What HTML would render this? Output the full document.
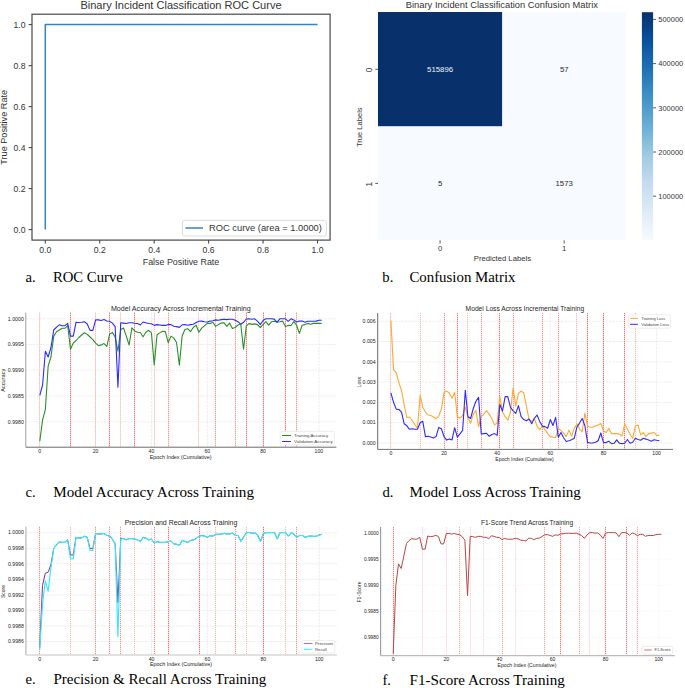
<!DOCTYPE html>
<html><head><meta charset="utf-8"><title>Figure</title>
<style>
html,body{margin:0;padding:0;background:#fff;}
body{width:685px;height:688px;overflow:hidden;position:relative;font-family:"Liberation Sans",sans-serif;}
svg{position:absolute;left:0;top:0;display:block;}
</style></head><body>
<svg width="685" height="688" viewBox="0 0 685 688">
<polyline points="45.30,229.60 45.30,24.60 317.50,24.60" fill="none" stroke="#3484c2" stroke-width="1.5" stroke-linejoin="round"/>
<rect x="32.0" y="14.2" width="298.1" height="225.9" fill="none" stroke="#484848" stroke-width="1.2"/>
<line x1="28.60" y1="229.60" x2="32.00" y2="229.60" stroke="#484848" stroke-width="1.1"/>
<text x="25.5" y="232.5" font-family="Liberation Sans" font-size="8.3" text-anchor="end" fill="#333" textLength="12.0" lengthAdjust="spacingAndGlyphs">0.0</text>
<line x1="45.30" y1="240.10" x2="45.30" y2="243.50" stroke="#484848" stroke-width="1.1"/>
<text x="45.3" y="252.8" font-family="Liberation Sans" font-size="8.3" text-anchor="middle" fill="#333" textLength="12.0" lengthAdjust="spacingAndGlyphs">0.0</text>
<line x1="28.60" y1="188.60" x2="32.00" y2="188.60" stroke="#484848" stroke-width="1.1"/>
<text x="25.5" y="191.5" font-family="Liberation Sans" font-size="8.3" text-anchor="end" fill="#333" textLength="12.0" lengthAdjust="spacingAndGlyphs">0.2</text>
<line x1="99.74" y1="240.10" x2="99.74" y2="243.50" stroke="#484848" stroke-width="1.1"/>
<text x="99.7" y="252.8" font-family="Liberation Sans" font-size="8.3" text-anchor="middle" fill="#333" textLength="12.0" lengthAdjust="spacingAndGlyphs">0.2</text>
<line x1="28.60" y1="147.60" x2="32.00" y2="147.60" stroke="#484848" stroke-width="1.1"/>
<text x="25.5" y="150.5" font-family="Liberation Sans" font-size="8.3" text-anchor="end" fill="#333" textLength="12.0" lengthAdjust="spacingAndGlyphs">0.4</text>
<line x1="154.18" y1="240.10" x2="154.18" y2="243.50" stroke="#484848" stroke-width="1.1"/>
<text x="154.2" y="252.8" font-family="Liberation Sans" font-size="8.3" text-anchor="middle" fill="#333" textLength="12.0" lengthAdjust="spacingAndGlyphs">0.4</text>
<line x1="28.60" y1="106.60" x2="32.00" y2="106.60" stroke="#484848" stroke-width="1.1"/>
<text x="25.5" y="109.5" font-family="Liberation Sans" font-size="8.3" text-anchor="end" fill="#333" textLength="12.0" lengthAdjust="spacingAndGlyphs">0.6</text>
<line x1="208.62" y1="240.10" x2="208.62" y2="243.50" stroke="#484848" stroke-width="1.1"/>
<text x="208.6" y="252.8" font-family="Liberation Sans" font-size="8.3" text-anchor="middle" fill="#333" textLength="12.0" lengthAdjust="spacingAndGlyphs">0.6</text>
<line x1="28.60" y1="65.60" x2="32.00" y2="65.60" stroke="#484848" stroke-width="1.1"/>
<text x="25.5" y="68.5" font-family="Liberation Sans" font-size="8.3" text-anchor="end" fill="#333" textLength="12.0" lengthAdjust="spacingAndGlyphs">0.8</text>
<line x1="263.06" y1="240.10" x2="263.06" y2="243.50" stroke="#484848" stroke-width="1.1"/>
<text x="263.1" y="252.8" font-family="Liberation Sans" font-size="8.3" text-anchor="middle" fill="#333" textLength="12.0" lengthAdjust="spacingAndGlyphs">0.8</text>
<line x1="28.60" y1="24.60" x2="32.00" y2="24.60" stroke="#484848" stroke-width="1.1"/>
<text x="25.5" y="27.5" font-family="Liberation Sans" font-size="8.3" text-anchor="end" fill="#333" textLength="12.0" lengthAdjust="spacingAndGlyphs">1.0</text>
<line x1="317.50" y1="240.10" x2="317.50" y2="243.50" stroke="#484848" stroke-width="1.1"/>
<text x="317.5" y="252.8" font-family="Liberation Sans" font-size="8.3" text-anchor="middle" fill="#333" textLength="12.0" lengthAdjust="spacingAndGlyphs">1.0</text>
<text x="181.0" y="264.6" font-family="Liberation Sans" font-size="9.1" text-anchor="middle" fill="#333" textLength="76.5" lengthAdjust="spacingAndGlyphs">False Positive Rate</text>
<text x="7.4" y="127.3" font-family="Liberation Sans" font-size="9.1" text-anchor="middle" fill="#333" textLength="74.8" lengthAdjust="spacingAndGlyphs" transform="rotate(-90 7.4 127.3)">True Positive Rate</text>
<text x="181.0" y="8.9" font-family="Liberation Sans" font-size="11" text-anchor="middle" fill="#333" textLength="201.2" lengthAdjust="spacingAndGlyphs">Binary Incident Classification ROC Curve</text>
<rect x="182.4" y="220.4" width="144" height="15.6" rx="2" fill="#fff" fill-opacity="0.8" stroke="#d8d8d8" stroke-width="0.9"/>
<line x1="185.40" y1="228.00" x2="203.00" y2="228.00" stroke="#3484c2" stroke-width="1.5"/>
<text x="209.0" y="231.1" font-family="Liberation Sans" font-size="8.8" text-anchor="start" fill="#333" textLength="112.9" lengthAdjust="spacingAndGlyphs">ROC curve (area = 1.0000)</text>
<rect x="378.0" y="12.0" width="248.2" height="228.3" fill="#f7fbff"/>
<rect x="378.0" y="12.0" width="124.1" height="114.2" fill="#08306b"/>
<text x="440.1" y="71.9" font-family="Liberation Sans" font-size="7.7" text-anchor="middle" fill="#eef3fa" textLength="26.0" lengthAdjust="spacingAndGlyphs">515896</text>
<text x="564.2" y="71.9" font-family="Liberation Sans" font-size="7.7" text-anchor="middle" fill="#262626" textLength="8.6" lengthAdjust="spacingAndGlyphs">57</text>
<text x="440.1" y="186.0" font-family="Liberation Sans" font-size="7.7" text-anchor="middle" fill="#262626" textLength="4.3" lengthAdjust="spacingAndGlyphs">5</text>
<text x="564.2" y="186.0" font-family="Liberation Sans" font-size="7.7" text-anchor="middle" fill="#262626" textLength="17.3" lengthAdjust="spacingAndGlyphs">1573</text>
<line x1="375.30" y1="69.28" x2="378.00" y2="69.28" stroke="#484848" stroke-width="0.9"/>
<text x="372.4" y="70.0" font-family="Liberation Sans" font-size="8.2" text-anchor="middle" fill="#333" transform="rotate(-90 372.4 70.0)">0</text>
<line x1="440.05" y1="240.30" x2="440.05" y2="243.50" stroke="#484848" stroke-width="0.9"/>
<text x="440.1" y="250.8" font-family="Liberation Sans" font-size="7.7" text-anchor="middle" fill="#333">0</text>
<line x1="375.30" y1="183.43" x2="378.00" y2="183.43" stroke="#484848" stroke-width="0.9"/>
<text x="372.4" y="184.1" font-family="Liberation Sans" font-size="8.2" text-anchor="middle" fill="#333" transform="rotate(-90 372.4 184.1)">1</text>
<line x1="564.15" y1="240.30" x2="564.15" y2="243.50" stroke="#484848" stroke-width="0.9"/>
<text x="564.2" y="250.8" font-family="Liberation Sans" font-size="7.7" text-anchor="middle" fill="#333">1</text>
<text x="502.4" y="261.0" font-family="Liberation Sans" font-size="7.3" text-anchor="middle" fill="#333" textLength="57.2" lengthAdjust="spacingAndGlyphs">Predicted Labels</text>
<text x="362.2" y="127.2" font-family="Liberation Sans" font-size="7.3" text-anchor="middle" fill="#333" textLength="39.6" lengthAdjust="spacingAndGlyphs" transform="rotate(-90 362.2 127.2)">True Labels</text>
<text x="501.9" y="8.0" font-family="Liberation Sans" font-size="9.0" text-anchor="middle" fill="#333" textLength="192.2" lengthAdjust="spacingAndGlyphs">Binary Incident Classification Confusion Matrix</text>
<defs><linearGradient id="blues" x1="0" y1="1" x2="0" y2="0"><stop offset="0" stop-color="#f7fbff"/><stop offset="0.125" stop-color="#deebf7"/><stop offset="0.25" stop-color="#c6dbef"/><stop offset="0.375" stop-color="#9ecae1"/><stop offset="0.5" stop-color="#6baed6"/><stop offset="0.625" stop-color="#4292c6"/><stop offset="0.75" stop-color="#2171b5"/><stop offset="0.875" stop-color="#08519c"/><stop offset="1" stop-color="#08306b"/></linearGradient></defs>
<rect x="641.9" y="12.2" width="11.2" height="228.1" fill="url(#blues)"/>
<line x1="653.10" y1="196.20" x2="656.10" y2="196.20" stroke="#484848" stroke-width="0.9"/>
<text x="658.3" y="199.0" font-family="Liberation Sans" font-size="7.7" text-anchor="start" fill="#333" textLength="24.9" lengthAdjust="spacingAndGlyphs">100000</text>
<line x1="653.10" y1="152.00" x2="656.10" y2="152.00" stroke="#484848" stroke-width="0.9"/>
<text x="658.3" y="154.8" font-family="Liberation Sans" font-size="7.7" text-anchor="start" fill="#333" textLength="24.9" lengthAdjust="spacingAndGlyphs">200000</text>
<line x1="653.10" y1="107.80" x2="656.10" y2="107.80" stroke="#484848" stroke-width="0.9"/>
<text x="658.3" y="110.6" font-family="Liberation Sans" font-size="7.7" text-anchor="start" fill="#333" textLength="24.9" lengthAdjust="spacingAndGlyphs">300000</text>
<line x1="653.10" y1="63.60" x2="656.10" y2="63.60" stroke="#484848" stroke-width="0.9"/>
<text x="658.3" y="66.4" font-family="Liberation Sans" font-size="7.7" text-anchor="start" fill="#333" textLength="24.9" lengthAdjust="spacingAndGlyphs">400000</text>
<line x1="653.10" y1="19.40" x2="656.10" y2="19.40" stroke="#484848" stroke-width="0.9"/>
<text x="658.3" y="22.2" font-family="Liberation Sans" font-size="7.7" text-anchor="start" fill="#333" textLength="24.9" lengthAdjust="spacingAndGlyphs">500000</text>
<line x1="25.80" y1="318.80" x2="336.40" y2="318.80" stroke="#e9e9e9" stroke-width="0.8" stroke-dasharray="2.4,1"/>
<line x1="25.80" y1="344.50" x2="336.40" y2="344.50" stroke="#e9e9e9" stroke-width="0.8" stroke-dasharray="2.4,1"/>
<line x1="25.80" y1="370.20" x2="336.40" y2="370.20" stroke="#e9e9e9" stroke-width="0.8" stroke-dasharray="2.4,1"/>
<line x1="25.80" y1="396.00" x2="336.40" y2="396.00" stroke="#e9e9e9" stroke-width="0.8" stroke-dasharray="2.4,1"/>
<line x1="25.80" y1="421.80" x2="336.40" y2="421.80" stroke="#e9e9e9" stroke-width="0.8" stroke-dasharray="2.4,1"/>
<line x1="39.80" y1="312.60" x2="39.80" y2="447.20" stroke="#e9e9e9" stroke-width="0.8" stroke-dasharray="2.4,1"/>
<line x1="95.62" y1="312.60" x2="95.62" y2="447.20" stroke="#e9e9e9" stroke-width="0.8" stroke-dasharray="2.4,1"/>
<line x1="151.44" y1="312.60" x2="151.44" y2="447.20" stroke="#e9e9e9" stroke-width="0.8" stroke-dasharray="2.4,1"/>
<line x1="207.26" y1="312.60" x2="207.26" y2="447.20" stroke="#e9e9e9" stroke-width="0.8" stroke-dasharray="2.4,1"/>
<line x1="263.08" y1="312.60" x2="263.08" y2="447.20" stroke="#e9e9e9" stroke-width="0.8" stroke-dasharray="2.4,1"/>
<line x1="318.90" y1="312.60" x2="318.90" y2="447.20" stroke="#e9e9e9" stroke-width="0.8" stroke-dasharray="2.4,1"/>
<line x1="39.50" y1="312.60" x2="39.50" y2="447.20" stroke="#ffb8b8" stroke-width="1.0" stroke-dasharray="1.3,0.7"/>
<line x1="70.50" y1="312.60" x2="70.50" y2="447.20" stroke="#ff6868" stroke-width="1.0" stroke-dasharray="1.3,0.7"/>
<line x1="95.50" y1="312.60" x2="95.50" y2="447.20" stroke="#ffb8b8" stroke-width="1.0" stroke-dasharray="1.3,0.7"/>
<line x1="109.50" y1="312.60" x2="109.50" y2="447.20" stroke="#ff6868" stroke-width="1.0" stroke-dasharray="1.3,0.7"/>
<line x1="120.50" y1="312.60" x2="120.50" y2="447.20" stroke="#ffb8b8" stroke-width="1.0" stroke-dasharray="1.3,0.7"/>
<line x1="134.50" y1="312.60" x2="134.50" y2="447.20" stroke="#ff6868" stroke-width="1.0" stroke-dasharray="1.3,0.7"/>
<line x1="154.50" y1="312.60" x2="154.50" y2="447.20" stroke="#ffb8b8" stroke-width="1.0" stroke-dasharray="1.3,0.7"/>
<line x1="168.50" y1="312.60" x2="168.50" y2="447.20" stroke="#ff9090" stroke-width="1.0" stroke-dasharray="1.3,0.7"/>
<line x1="198.50" y1="312.60" x2="198.50" y2="447.20" stroke="#ffb8b8" stroke-width="1.0" stroke-dasharray="1.3,0.7"/>
<line x1="215.50" y1="312.60" x2="215.50" y2="447.20" stroke="#ff9090" stroke-width="1.0" stroke-dasharray="1.3,0.7"/>
<line x1="235.50" y1="312.60" x2="235.50" y2="447.20" stroke="#ff9090" stroke-width="1.0" stroke-dasharray="1.3,0.7"/>
<line x1="246.50" y1="312.60" x2="246.50" y2="447.20" stroke="#ff6868" stroke-width="1.0" stroke-dasharray="1.3,0.7"/>
<line x1="263.50" y1="312.60" x2="263.50" y2="447.20" stroke="#ff6868" stroke-width="1.0" stroke-dasharray="1.3,0.7"/>
<line x1="285.50" y1="312.60" x2="285.50" y2="447.20" stroke="#ff6868" stroke-width="1.0" stroke-dasharray="1.3,0.7"/>
<line x1="296.50" y1="312.60" x2="296.50" y2="447.20" stroke="#ff9090" stroke-width="1.0" stroke-dasharray="1.3,0.7"/>
<polyline points="39.80,441.30 42.59,419.80 45.38,409.30 48.17,365.80 50.96,357.00 53.75,336.10 56.55,331.80 59.34,330.00 62.13,328.30 64.92,328.30 67.71,325.70 70.50,349.20 73.29,343.10 76.08,340.50 78.87,337.50 81.66,335.00 84.46,332.70 87.25,334.40 90.04,337.00 92.83,339.60 95.62,343.10 98.41,345.70 101.20,344.90 103.99,343.60 106.78,346.30 109.57,334.30 112.37,332.40 115.16,337.00 117.95,351.20 120.74,329.60 123.53,328.00 126.32,336.10 129.11,345.00 131.90,327.90 134.69,330.90 137.49,332.20 140.28,332.50 143.07,336.80 145.86,332.20 148.65,330.30 151.44,332.90 154.23,364.90 157.02,334.80 159.81,332.90 162.60,331.20 165.39,331.60 168.19,342.70 170.98,336.10 173.77,338.10 176.56,342.50 179.35,365.20 182.14,336.00 184.93,329.50 187.72,328.70 190.51,331.60 193.31,327.50 196.10,325.20 198.89,332.20 201.68,328.10 204.47,325.80 207.26,323.40 210.05,323.40 212.84,322.30 215.63,326.40 218.42,324.60 221.21,323.10 224.01,322.80 226.80,326.40 229.59,323.10 232.38,328.50 235.17,327.50 237.96,324.90 240.75,324.00 243.54,349.10 246.33,325.80 249.12,323.60 251.92,324.40 254.71,323.90 257.50,324.60 260.29,327.50 263.08,324.60 265.87,321.70 268.66,325.20 271.45,321.70 274.24,321.30 277.03,322.00 279.83,321.70 282.62,321.10 285.41,326.40 288.20,325.40 290.99,325.50 293.78,321.70 296.57,325.20 299.36,333.40 302.15,325.20 304.94,324.60 307.74,323.40 310.53,324.20 313.32,323.40 316.11,323.40 318.90,323.40 321.69,323.40" fill="none" stroke="#2a8f2a" stroke-width="1.1" stroke-linejoin="round"/>
<polyline points="39.80,395.40 42.59,385.00 45.38,351.30 48.17,357.00 50.96,347.50 53.75,330.00 56.55,327.10 59.34,324.80 62.13,325.70 64.92,325.70 67.71,323.40 70.50,336.10 73.29,336.10 76.08,322.20 78.87,322.50 81.66,322.20 84.46,321.70 87.25,324.00 90.04,330.40 92.83,330.40 95.62,319.90 98.41,319.90 101.20,320.50 103.99,319.60 106.78,321.00 109.57,321.20 112.37,323.10 115.16,326.70 117.95,387.10 120.74,322.80 123.53,323.10 126.32,323.50 129.11,322.70 131.90,322.70 134.69,323.30 137.49,323.50 140.28,325.00 143.07,322.00 145.86,322.80 148.65,323.50 151.44,323.70 154.23,325.40 157.02,324.60 159.81,325.00 162.60,325.40 165.39,325.40 168.19,324.40 170.98,324.60 173.77,326.30 176.56,326.60 179.35,327.40 182.14,324.80 184.93,324.60 187.72,325.20 190.51,324.60 193.31,324.20 196.10,322.60 198.89,321.30 201.68,321.10 204.47,321.70 207.26,322.00 210.05,321.10 212.84,320.70 215.63,319.90 218.42,320.30 221.21,319.60 224.01,319.30 226.80,319.60 229.59,319.30 232.38,319.30 235.17,320.20 237.96,321.70 240.75,324.20 243.54,322.30 246.33,319.00 249.12,318.80 251.92,319.20 254.71,318.80 257.50,321.10 260.29,324.60 263.08,320.50 265.87,318.80 268.66,318.80 271.45,318.80 274.24,319.10 277.03,322.30 279.83,318.80 282.62,318.80 285.41,318.80 288.20,321.30 290.99,318.80 293.78,319.90 296.57,322.00 299.36,321.10 302.15,321.10 304.94,322.30 307.74,321.30 310.53,321.30 313.32,321.30 316.11,321.10 318.90,320.30 321.69,320.30" fill="none" stroke="#2b2bff" stroke-width="1.1" stroke-linejoin="round"/>
<line x1="25.80" y1="312.60" x2="25.80" y2="447.20" stroke="#a0a0a0" stroke-width="1.0"/>
<line x1="25.80" y1="447.20" x2="336.40" y2="447.20" stroke="#6a6a6a" stroke-width="1.0"/>
<text x="23.8" y="320.5" font-family="Liberation Sans" font-size="4.9" text-anchor="end" fill="#222" textLength="16.0" lengthAdjust="spacingAndGlyphs">1.0000</text>
<text x="23.8" y="346.2" font-family="Liberation Sans" font-size="4.9" text-anchor="end" fill="#222" textLength="16.0" lengthAdjust="spacingAndGlyphs">0.9995</text>
<text x="23.8" y="371.9" font-family="Liberation Sans" font-size="4.9" text-anchor="end" fill="#222" textLength="16.0" lengthAdjust="spacingAndGlyphs">0.9990</text>
<text x="23.8" y="397.7" font-family="Liberation Sans" font-size="4.9" text-anchor="end" fill="#222" textLength="16.0" lengthAdjust="spacingAndGlyphs">0.9985</text>
<text x="23.8" y="423.5" font-family="Liberation Sans" font-size="4.9" text-anchor="end" fill="#222" textLength="16.0" lengthAdjust="spacingAndGlyphs">0.9980</text>
<text x="39.8" y="452.8" font-family="Liberation Sans" font-size="4.9" text-anchor="middle" fill="#222" textLength="2.9" lengthAdjust="spacingAndGlyphs">0</text>
<text x="95.6" y="452.8" font-family="Liberation Sans" font-size="4.9" text-anchor="middle" fill="#222" textLength="5.7" lengthAdjust="spacingAndGlyphs">20</text>
<text x="151.4" y="452.8" font-family="Liberation Sans" font-size="4.9" text-anchor="middle" fill="#222" textLength="5.7" lengthAdjust="spacingAndGlyphs">40</text>
<text x="207.3" y="452.8" font-family="Liberation Sans" font-size="4.9" text-anchor="middle" fill="#222" textLength="5.7" lengthAdjust="spacingAndGlyphs">60</text>
<text x="263.1" y="452.8" font-family="Liberation Sans" font-size="4.9" text-anchor="middle" fill="#222" textLength="5.7" lengthAdjust="spacingAndGlyphs">80</text>
<text x="318.9" y="452.8" font-family="Liberation Sans" font-size="4.9" text-anchor="middle" fill="#222" textLength="8.6" lengthAdjust="spacingAndGlyphs">100</text>
<text x="180.6" y="459.0" font-family="Liberation Sans" font-size="4.9" text-anchor="middle" fill="#222" textLength="61.8" lengthAdjust="spacingAndGlyphs">Epoch Index (Cumulative)</text>
<text x="5.0" y="380.2" font-family="Liberation Sans" font-size="4.9" text-anchor="middle" fill="#222" textLength="23.0" lengthAdjust="spacingAndGlyphs" transform="rotate(-90 5.0 380.2)">Accuracy</text>
<text x="180.8" y="310.7" font-family="Liberation Sans" font-size="6.9" text-anchor="middle" fill="#262626" textLength="139.7" lengthAdjust="spacingAndGlyphs">Model Accuracy Across Incremental Training</text>
<rect x="280.2" y="431.4" width="54.2" height="13.6" rx="1" fill="#fff" stroke="#e0e0e0" stroke-width="0.6"/>
<line x1="282.00" y1="435.50" x2="291.00" y2="435.50" stroke="#2a8f2a" stroke-width="1.0"/>
<text x="294.0" y="436.8" font-family="Liberation Sans" font-size="3.7" text-anchor="start" fill="#444" textLength="34.2" lengthAdjust="spacingAndGlyphs">Training Accuracy</text>
<line x1="282.00" y1="441.50" x2="291.00" y2="441.50" stroke="#2b2bff" stroke-width="1.0"/>
<text x="294.0" y="442.8" font-family="Liberation Sans" font-size="3.7" text-anchor="start" fill="#444" textLength="38.8" lengthAdjust="spacingAndGlyphs">Validation Accuracy</text>
<line x1="377.70" y1="321.20" x2="673.00" y2="321.20" stroke="#e9e9e9" stroke-width="0.8" stroke-dasharray="2.4,1"/>
<line x1="377.70" y1="341.50" x2="673.00" y2="341.50" stroke="#e9e9e9" stroke-width="0.8" stroke-dasharray="2.4,1"/>
<line x1="377.70" y1="361.80" x2="673.00" y2="361.80" stroke="#e9e9e9" stroke-width="0.8" stroke-dasharray="2.4,1"/>
<line x1="377.70" y1="382.10" x2="673.00" y2="382.10" stroke="#e9e9e9" stroke-width="0.8" stroke-dasharray="2.4,1"/>
<line x1="377.70" y1="402.40" x2="673.00" y2="402.40" stroke="#e9e9e9" stroke-width="0.8" stroke-dasharray="2.4,1"/>
<line x1="377.70" y1="422.70" x2="673.00" y2="422.70" stroke="#e9e9e9" stroke-width="0.8" stroke-dasharray="2.4,1"/>
<line x1="377.70" y1="443.00" x2="673.00" y2="443.00" stroke="#e9e9e9" stroke-width="0.8" stroke-dasharray="2.4,1"/>
<line x1="390.90" y1="313.00" x2="390.90" y2="449.40" stroke="#e9e9e9" stroke-width="0.8" stroke-dasharray="2.4,1"/>
<line x1="444.04" y1="313.00" x2="444.04" y2="449.40" stroke="#e9e9e9" stroke-width="0.8" stroke-dasharray="2.4,1"/>
<line x1="497.18" y1="313.00" x2="497.18" y2="449.40" stroke="#e9e9e9" stroke-width="0.8" stroke-dasharray="2.4,1"/>
<line x1="550.32" y1="313.00" x2="550.32" y2="449.40" stroke="#e9e9e9" stroke-width="0.8" stroke-dasharray="2.4,1"/>
<line x1="603.46" y1="313.00" x2="603.46" y2="449.40" stroke="#e9e9e9" stroke-width="0.8" stroke-dasharray="2.4,1"/>
<line x1="656.60" y1="313.00" x2="656.60" y2="449.40" stroke="#e9e9e9" stroke-width="0.8" stroke-dasharray="2.4,1"/>
<line x1="390.50" y1="313.00" x2="390.50" y2="449.40" stroke="#ffb8b8" stroke-width="1.0" stroke-dasharray="1.3,0.7"/>
<line x1="420.50" y1="313.00" x2="420.50" y2="449.40" stroke="#ffb8b8" stroke-width="1.0" stroke-dasharray="1.3,0.7"/>
<line x1="444.50" y1="313.00" x2="444.50" y2="449.40" stroke="#ff9090" stroke-width="1.0" stroke-dasharray="1.3,0.7"/>
<line x1="457.50" y1="313.00" x2="457.50" y2="449.40" stroke="#ff6868" stroke-width="1.0" stroke-dasharray="1.3,0.7"/>
<line x1="467.50" y1="313.00" x2="467.50" y2="449.40" stroke="#ffb8b8" stroke-width="1.0" stroke-dasharray="1.3,0.7"/>
<line x1="481.50" y1="313.00" x2="481.50" y2="449.40" stroke="#ff9090" stroke-width="1.0" stroke-dasharray="1.3,0.7"/>
<line x1="499.50" y1="313.00" x2="499.50" y2="449.40" stroke="#ff6868" stroke-width="1.0" stroke-dasharray="1.3,0.7"/>
<line x1="513.50" y1="313.00" x2="513.50" y2="449.40" stroke="#ff9090" stroke-width="1.0" stroke-dasharray="1.3,0.7"/>
<line x1="542.50" y1="313.00" x2="542.50" y2="449.40" stroke="#ff9090" stroke-width="1.0" stroke-dasharray="1.3,0.7"/>
<line x1="558.50" y1="313.00" x2="558.50" y2="449.40" stroke="#ff9090" stroke-width="1.0" stroke-dasharray="1.3,0.7"/>
<line x1="576.50" y1="313.00" x2="576.50" y2="449.40" stroke="#ffb8b8" stroke-width="1.0" stroke-dasharray="1.3,0.7"/>
<line x1="587.50" y1="313.00" x2="587.50" y2="449.40" stroke="#ff6868" stroke-width="1.0" stroke-dasharray="1.3,0.7"/>
<line x1="603.50" y1="313.00" x2="603.50" y2="449.40" stroke="#ff6868" stroke-width="1.0" stroke-dasharray="1.3,0.7"/>
<line x1="624.50" y1="313.00" x2="624.50" y2="449.40" stroke="#ff6868" stroke-width="1.0" stroke-dasharray="1.3,0.7"/>
<line x1="635.50" y1="313.00" x2="635.50" y2="449.40" stroke="#ffb8b8" stroke-width="1.0" stroke-dasharray="1.3,0.7"/>
<polyline points="390.90,320.50 393.56,369.90 396.21,372.50 398.87,382.60 401.53,390.50 404.19,405.00 406.84,417.50 409.50,417.00 412.16,420.50 414.81,424.50 417.47,428.30 420.13,395.40 422.78,407.20 425.44,412.10 428.10,415.00 430.75,415.40 433.41,417.00 436.07,418.90 438.73,416.00 441.38,409.10 444.04,392.50 446.70,391.10 449.35,393.00 452.01,398.30 454.67,392.50 457.32,416.50 459.98,418.30 462.64,415.50 465.30,407.00 467.95,417.90 470.61,423.10 473.27,414.40 475.92,410.30 478.58,426.60 481.24,416.70 483.89,413.80 486.55,410.60 489.21,414.40 491.87,418.50 494.52,424.90 497.18,423.10 499.84,396.30 502.49,412.00 505.15,416.70 507.81,420.20 510.46,412.00 513.12,388.10 515.78,406.20 518.44,393.40 521.09,391.30 523.75,392.80 526.41,406.20 529.06,419.60 531.72,421.50 534.38,418.50 537.03,426.10 539.69,429.60 542.35,426.10 545.01,429.60 547.66,433.60 550.32,436.60 552.98,437.20 555.63,437.50 558.29,428.40 560.95,430.70 563.61,433.10 566.26,436.60 568.92,430.10 571.58,436.30 574.23,428.40 576.89,424.00 579.55,429.00 582.20,431.90 584.86,413.00 587.52,426.10 590.17,427.20 592.83,427.20 595.49,425.80 598.15,424.90 600.80,423.50 603.46,431.00 606.12,432.50 608.77,428.40 611.43,433.60 614.09,433.60 616.75,433.60 619.40,434.00 622.06,436.00 624.72,423.70 627.37,429.00 630.03,434.20 632.69,438.30 635.34,426.10 638.00,424.90 640.66,434.80 643.31,432.50 645.97,436.60 648.63,433.60 651.29,433.10 653.94,432.50 656.60,435.40 659.26,435.40" fill="none" stroke="#ffa733" stroke-width="1.1" stroke-linejoin="round"/>
<polyline points="390.90,393.00 393.56,402.30 396.21,409.10 398.87,409.50 401.53,412.10 404.19,423.80 406.84,425.80 409.50,429.30 412.16,428.70 414.81,429.30 417.47,429.30 420.13,422.80 422.78,421.30 425.44,436.60 428.10,436.20 430.75,437.00 433.41,438.10 436.07,436.60 438.73,427.40 441.38,428.70 444.04,436.60 446.70,440.10 449.35,438.90 452.01,439.90 454.67,427.70 457.32,437.10 459.98,433.80 462.64,430.40 465.30,390.30 467.95,416.70 470.61,418.50 473.27,408.50 475.92,401.30 478.58,397.40 481.24,434.00 483.89,433.60 486.55,433.30 489.21,436.30 491.87,434.50 494.52,433.60 497.18,435.40 499.84,404.50 502.49,411.10 505.15,396.60 507.81,396.60 510.46,407.40 513.12,410.90 515.78,413.40 518.44,405.60 521.09,416.70 523.75,419.60 526.41,420.80 529.06,419.00 531.72,423.70 534.38,418.30 537.03,415.00 539.69,421.40 542.35,426.10 545.01,426.60 547.66,428.40 550.32,419.60 552.98,425.50 555.63,417.30 558.29,437.20 560.95,432.50 563.61,437.70 566.26,441.50 568.92,440.70 571.58,439.80 574.23,438.30 576.89,427.20 579.55,423.10 582.20,418.50 584.86,425.50 587.52,442.40 590.17,443.00 592.83,443.00 595.49,442.20 598.15,440.70 600.80,433.00 603.46,442.40 606.12,442.60 608.77,441.20 611.43,443.60 614.09,443.30 616.75,439.80 619.40,443.30 622.06,443.60 624.72,443.30 627.37,439.50 630.03,443.30 632.69,442.20 635.34,438.30 638.00,439.50 640.66,440.30 643.31,438.30 645.97,439.10 648.63,440.10 651.29,441.20 653.94,439.80 656.60,440.30 659.26,440.70" fill="none" stroke="#2b2bff" stroke-width="1.1" stroke-linejoin="round"/>
<line x1="377.70" y1="313.00" x2="377.70" y2="449.40" stroke="#686868" stroke-width="1.0"/>
<line x1="377.70" y1="449.40" x2="673.00" y2="449.40" stroke="#707070" stroke-width="1.0"/>
<text x="375.7" y="322.9" font-family="Liberation Sans" font-size="4.9" text-anchor="end" fill="#222" textLength="13.1" lengthAdjust="spacingAndGlyphs">0.006</text>
<text x="375.7" y="343.2" font-family="Liberation Sans" font-size="4.9" text-anchor="end" fill="#222" textLength="13.1" lengthAdjust="spacingAndGlyphs">0.005</text>
<text x="375.7" y="363.5" font-family="Liberation Sans" font-size="4.9" text-anchor="end" fill="#222" textLength="13.1" lengthAdjust="spacingAndGlyphs">0.004</text>
<text x="375.7" y="383.8" font-family="Liberation Sans" font-size="4.9" text-anchor="end" fill="#222" textLength="13.1" lengthAdjust="spacingAndGlyphs">0.003</text>
<text x="375.7" y="404.1" font-family="Liberation Sans" font-size="4.9" text-anchor="end" fill="#222" textLength="13.1" lengthAdjust="spacingAndGlyphs">0.002</text>
<text x="375.7" y="424.4" font-family="Liberation Sans" font-size="4.9" text-anchor="end" fill="#222" textLength="13.1" lengthAdjust="spacingAndGlyphs">0.001</text>
<text x="375.7" y="444.7" font-family="Liberation Sans" font-size="4.9" text-anchor="end" fill="#222" textLength="13.1" lengthAdjust="spacingAndGlyphs">0.000</text>
<text x="390.9" y="455.0" font-family="Liberation Sans" font-size="4.9" text-anchor="middle" fill="#222" textLength="2.9" lengthAdjust="spacingAndGlyphs">0</text>
<text x="444.0" y="455.0" font-family="Liberation Sans" font-size="4.9" text-anchor="middle" fill="#222" textLength="5.7" lengthAdjust="spacingAndGlyphs">20</text>
<text x="497.2" y="455.0" font-family="Liberation Sans" font-size="4.9" text-anchor="middle" fill="#222" textLength="5.7" lengthAdjust="spacingAndGlyphs">40</text>
<text x="550.3" y="455.0" font-family="Liberation Sans" font-size="4.9" text-anchor="middle" fill="#222" textLength="5.7" lengthAdjust="spacingAndGlyphs">60</text>
<text x="603.5" y="455.0" font-family="Liberation Sans" font-size="4.9" text-anchor="middle" fill="#222" textLength="5.7" lengthAdjust="spacingAndGlyphs">80</text>
<text x="656.6" y="455.0" font-family="Liberation Sans" font-size="4.9" text-anchor="middle" fill="#222" textLength="8.6" lengthAdjust="spacingAndGlyphs">100</text>
<text x="524.5" y="461.0" font-family="Liberation Sans" font-size="4.9" text-anchor="middle" fill="#222" textLength="58.4" lengthAdjust="spacingAndGlyphs">Epoch Index (Cumulative)</text>
<text x="361.0" y="382.0" font-family="Liberation Sans" font-size="4.9" text-anchor="middle" fill="#222" textLength="10.5" lengthAdjust="spacingAndGlyphs" transform="rotate(-90 361.0 382.0)">Loss</text>
<text x="524.9" y="310.6" font-family="Liberation Sans" font-size="6.9" text-anchor="middle" fill="#262626" textLength="118.6" lengthAdjust="spacingAndGlyphs">Model Loss Across Incremental Training</text>
<rect x="628.4" y="314.8" width="42.1" height="13.4" rx="1" fill="#fff" stroke="#e0e0e0" stroke-width="0.6"/>
<line x1="630.00" y1="318.40" x2="637.90" y2="318.40" stroke="#ffa733" stroke-width="1.0"/>
<text x="641.2" y="319.7" font-family="Liberation Sans" font-size="3.7" text-anchor="start" fill="#444" textLength="24.1" lengthAdjust="spacingAndGlyphs">Training Loss</text>
<line x1="630.00" y1="324.30" x2="637.90" y2="324.30" stroke="#2b2bff" stroke-width="1.0"/>
<text x="641.2" y="325.6" font-family="Liberation Sans" font-size="3.7" text-anchor="start" fill="#444" textLength="27.9" lengthAdjust="spacingAndGlyphs">Validation Loss</text>
<line x1="25.90" y1="532.70" x2="336.80" y2="532.70" stroke="#e9e9e9" stroke-width="0.8" stroke-dasharray="2.4,1"/>
<line x1="25.90" y1="548.30" x2="336.80" y2="548.30" stroke="#e9e9e9" stroke-width="0.8" stroke-dasharray="2.4,1"/>
<line x1="25.90" y1="563.80" x2="336.80" y2="563.80" stroke="#e9e9e9" stroke-width="0.8" stroke-dasharray="2.4,1"/>
<line x1="25.90" y1="579.40" x2="336.80" y2="579.40" stroke="#e9e9e9" stroke-width="0.8" stroke-dasharray="2.4,1"/>
<line x1="25.90" y1="594.90" x2="336.80" y2="594.90" stroke="#e9e9e9" stroke-width="0.8" stroke-dasharray="2.4,1"/>
<line x1="25.90" y1="610.40" x2="336.80" y2="610.40" stroke="#e9e9e9" stroke-width="0.8" stroke-dasharray="2.4,1"/>
<line x1="25.90" y1="626.00" x2="336.80" y2="626.00" stroke="#e9e9e9" stroke-width="0.8" stroke-dasharray="2.4,1"/>
<line x1="25.90" y1="641.60" x2="336.80" y2="641.60" stroke="#e9e9e9" stroke-width="0.8" stroke-dasharray="2.4,1"/>
<line x1="39.70" y1="526.80" x2="39.70" y2="655.00" stroke="#e9e9e9" stroke-width="0.8" stroke-dasharray="2.4,1"/>
<line x1="95.60" y1="526.80" x2="95.60" y2="655.00" stroke="#e9e9e9" stroke-width="0.8" stroke-dasharray="2.4,1"/>
<line x1="151.50" y1="526.80" x2="151.50" y2="655.00" stroke="#e9e9e9" stroke-width="0.8" stroke-dasharray="2.4,1"/>
<line x1="207.40" y1="526.80" x2="207.40" y2="655.00" stroke="#e9e9e9" stroke-width="0.8" stroke-dasharray="2.4,1"/>
<line x1="263.30" y1="526.80" x2="263.30" y2="655.00" stroke="#e9e9e9" stroke-width="0.8" stroke-dasharray="2.4,1"/>
<line x1="319.20" y1="526.80" x2="319.20" y2="655.00" stroke="#e9e9e9" stroke-width="0.8" stroke-dasharray="2.4,1"/>
<line x1="39.50" y1="526.80" x2="39.50" y2="655.00" stroke="#ff9090" stroke-width="1.0" stroke-dasharray="1.3,0.7"/>
<line x1="70.50" y1="526.80" x2="70.50" y2="655.00" stroke="#ffb8b8" stroke-width="1.0" stroke-dasharray="1.3,0.7"/>
<line x1="95.50" y1="526.80" x2="95.50" y2="655.00" stroke="#ff9090" stroke-width="1.0" stroke-dasharray="1.3,0.7"/>
<line x1="109.50" y1="526.80" x2="109.50" y2="655.00" stroke="#ff9090" stroke-width="1.0" stroke-dasharray="1.3,0.7"/>
<line x1="120.50" y1="526.80" x2="120.50" y2="655.00" stroke="#ff9090" stroke-width="1.0" stroke-dasharray="1.3,0.7"/>
<line x1="134.50" y1="526.80" x2="134.50" y2="655.00" stroke="#ffb8b8" stroke-width="1.0" stroke-dasharray="1.3,0.7"/>
<line x1="154.50" y1="526.80" x2="154.50" y2="655.00" stroke="#ff9090" stroke-width="1.0" stroke-dasharray="1.3,0.7"/>
<line x1="168.50" y1="526.80" x2="168.50" y2="655.00" stroke="#ff6868" stroke-width="1.0" stroke-dasharray="1.3,0.7"/>
<line x1="199.50" y1="526.80" x2="199.50" y2="655.00" stroke="#ff6868" stroke-width="1.0" stroke-dasharray="1.3,0.7"/>
<line x1="215.50" y1="526.80" x2="215.50" y2="655.00" stroke="#ffb8b8" stroke-width="1.0" stroke-dasharray="1.3,0.7"/>
<line x1="235.50" y1="526.80" x2="235.50" y2="655.00" stroke="#ff9090" stroke-width="1.0" stroke-dasharray="1.3,0.7"/>
<line x1="246.50" y1="526.80" x2="246.50" y2="655.00" stroke="#ffb8b8" stroke-width="1.0" stroke-dasharray="1.3,0.7"/>
<line x1="263.50" y1="526.80" x2="263.50" y2="655.00" stroke="#ff6868" stroke-width="1.0" stroke-dasharray="1.3,0.7"/>
<line x1="285.50" y1="526.80" x2="285.50" y2="655.00" stroke="#ffb8b8" stroke-width="1.0" stroke-dasharray="1.3,0.7"/>
<line x1="296.50" y1="526.80" x2="296.50" y2="655.00" stroke="#ff9090" stroke-width="1.0" stroke-dasharray="1.3,0.7"/>
<polyline points="39.70,647.90 42.50,585.50 45.29,573.20 48.09,572.30 50.88,564.70 53.68,548.60 56.47,544.90 59.27,542.00 62.06,542.40 64.86,542.40 67.65,539.80 70.44,554.90 73.24,554.90 76.03,537.30 78.83,538.20 81.62,537.90 84.42,536.30 87.22,537.30 90.01,548.60 92.81,548.60 95.60,533.50 98.40,534.10 101.19,533.90 103.98,533.50 106.78,535.40 109.58,536.00 112.37,539.20 115.17,543.90 117.96,602.50 120.75,538.20 123.55,538.60 126.34,539.80 129.14,538.60 131.94,538.60 134.73,539.20 137.53,539.80 140.32,541.60 143.12,537.30 145.91,538.20 148.70,539.80 151.50,539.20 154.30,543.00 157.09,541.60 159.88,542.40 162.68,542.40 165.47,542.40 168.27,541.60 171.06,541.10 173.86,543.90 176.65,544.30 179.45,545.10 182.25,540.40 185.04,541.40 187.83,542.50 190.63,540.40 193.43,540.00 196.22,538.40 199.01,536.30 201.81,535.50 204.61,536.10 207.40,537.30 210.19,535.70 212.99,536.10 215.79,534.30 218.58,534.30 221.38,534.10 224.17,533.40 226.96,533.90 229.76,533.90 232.56,533.20 235.35,535.30 238.14,535.50 240.94,541.40 243.74,536.70 246.53,532.60 249.32,532.50 252.12,533.30 254.92,532.60 257.71,535.50 260.50,541.40 263.30,533.80 266.09,532.60 268.89,532.60 271.69,532.60 274.48,532.60 277.27,539.00 280.07,532.60 282.87,532.60 285.66,532.60 288.45,536.10 291.25,532.60 294.05,534.30 296.84,537.30 299.63,535.50 302.43,535.50 305.22,537.30 308.02,536.30 310.81,536.10 313.61,536.30 316.40,536.30 319.20,534.90 322.00,534.30" fill="none" stroke="#8a2f9a" stroke-width="1.0" stroke-linejoin="round"/>
<polyline points="39.70,649.80 42.50,604.40 45.29,580.80 48.09,591.20 50.88,568.50 53.68,548.60 56.47,544.90 59.27,542.00 62.06,542.40 64.86,542.40 67.65,539.80 70.44,559.00 73.24,559.00 76.03,537.30 78.83,538.20 81.62,537.90 84.42,536.30 87.22,537.30 90.01,550.50 92.81,550.50 95.60,533.50 98.40,534.10 101.19,533.90 103.98,533.50 106.78,535.40 109.58,536.00 112.37,539.20 115.17,543.90 117.96,636.60 120.75,539.20 123.55,538.60 126.34,539.80 129.14,538.60 131.94,538.60 134.73,539.20 137.53,539.80 140.32,541.60 143.12,537.30 145.91,538.20 148.70,539.80 151.50,539.20 154.30,543.00 157.09,541.60 159.88,542.40 162.68,542.40 165.47,542.40 168.27,541.60 171.06,541.10 173.86,543.90 176.65,544.30 179.45,545.10 182.25,540.40 185.04,541.40 187.83,542.50 190.63,540.40 193.43,540.00 196.22,538.40 199.01,536.30 201.81,535.50 204.61,536.10 207.40,537.30 210.19,535.70 212.99,536.10 215.79,534.30 218.58,534.30 221.38,534.10 224.17,533.40 226.96,533.90 229.76,533.90 232.56,533.20 235.35,535.30 238.14,535.50 240.94,541.40 243.74,536.70 246.53,532.60 249.32,532.50 252.12,533.30 254.92,532.60 257.71,535.50 260.50,541.40 263.30,533.80 266.09,532.60 268.89,532.60 271.69,532.60 274.48,532.60 277.27,539.00 280.07,532.60 282.87,532.60 285.66,532.60 288.45,536.10 291.25,532.60 294.05,534.30 296.84,537.30 299.63,535.50 302.43,535.50 305.22,537.30 308.02,536.30 310.81,536.10 313.61,536.30 316.40,536.30 319.20,534.90 322.00,534.30" fill="none" stroke="#38e9f7" stroke-width="1.2" stroke-linejoin="round"/>
<line x1="25.90" y1="526.80" x2="25.90" y2="655.00" stroke="#b8b8b8" stroke-width="1.2"/>
<line x1="25.90" y1="655.00" x2="336.80" y2="655.00" stroke="#c4c4c4" stroke-width="1.2"/>
<text x="23.9" y="534.4" font-family="Liberation Sans" font-size="4.9" text-anchor="end" fill="#222" textLength="16.0" lengthAdjust="spacingAndGlyphs">1.0000</text>
<text x="23.9" y="550.0" font-family="Liberation Sans" font-size="4.9" text-anchor="end" fill="#222" textLength="16.0" lengthAdjust="spacingAndGlyphs">0.9998</text>
<text x="23.9" y="565.5" font-family="Liberation Sans" font-size="4.9" text-anchor="end" fill="#222" textLength="16.0" lengthAdjust="spacingAndGlyphs">0.9996</text>
<text x="23.9" y="581.1" font-family="Liberation Sans" font-size="4.9" text-anchor="end" fill="#222" textLength="16.0" lengthAdjust="spacingAndGlyphs">0.9994</text>
<text x="23.9" y="596.6" font-family="Liberation Sans" font-size="4.9" text-anchor="end" fill="#222" textLength="16.0" lengthAdjust="spacingAndGlyphs">0.9992</text>
<text x="23.9" y="612.1" font-family="Liberation Sans" font-size="4.9" text-anchor="end" fill="#222" textLength="16.0" lengthAdjust="spacingAndGlyphs">0.9990</text>
<text x="23.9" y="627.7" font-family="Liberation Sans" font-size="4.9" text-anchor="end" fill="#222" textLength="16.0" lengthAdjust="spacingAndGlyphs">0.9988</text>
<text x="23.9" y="643.3" font-family="Liberation Sans" font-size="4.9" text-anchor="end" fill="#222" textLength="16.0" lengthAdjust="spacingAndGlyphs">0.9986</text>
<text x="39.7" y="660.6" font-family="Liberation Sans" font-size="4.9" text-anchor="middle" fill="#222" textLength="2.9" lengthAdjust="spacingAndGlyphs">0</text>
<text x="95.6" y="660.6" font-family="Liberation Sans" font-size="4.9" text-anchor="middle" fill="#222" textLength="5.7" lengthAdjust="spacingAndGlyphs">20</text>
<text x="151.5" y="660.6" font-family="Liberation Sans" font-size="4.9" text-anchor="middle" fill="#222" textLength="5.7" lengthAdjust="spacingAndGlyphs">40</text>
<text x="207.4" y="660.6" font-family="Liberation Sans" font-size="4.9" text-anchor="middle" fill="#222" textLength="5.7" lengthAdjust="spacingAndGlyphs">60</text>
<text x="263.3" y="660.6" font-family="Liberation Sans" font-size="4.9" text-anchor="middle" fill="#222" textLength="5.7" lengthAdjust="spacingAndGlyphs">80</text>
<text x="319.2" y="660.6" font-family="Liberation Sans" font-size="4.9" text-anchor="middle" fill="#222" textLength="8.6" lengthAdjust="spacingAndGlyphs">100</text>
<text x="181.0" y="666.0" font-family="Liberation Sans" font-size="4.9" text-anchor="middle" fill="#222" textLength="62.0" lengthAdjust="spacingAndGlyphs">Epoch Index (Cumulative)</text>
<text x="5.0" y="591.5" font-family="Liberation Sans" font-size="4.9" text-anchor="middle" fill="#222" textLength="13.1" lengthAdjust="spacingAndGlyphs" transform="rotate(-90 5.0 591.5)">Score</text>
<text x="181.0" y="525.0" font-family="Liberation Sans" font-size="6.9" text-anchor="middle" fill="#262626" textLength="112.7" lengthAdjust="spacingAndGlyphs">Precision and Recall Across Training</text>
<rect x="302.1" y="640.6" width="32.7" height="12.4" rx="1" fill="#fff" stroke="#e0e0e0" stroke-width="0.6"/>
<line x1="303.80" y1="643.50" x2="312.40" y2="643.50" stroke="#b070c0" stroke-width="1.0"/>
<text x="315.1" y="644.8" font-family="Liberation Sans" font-size="3.7" text-anchor="start" fill="#444" textLength="17.9" lengthAdjust="spacingAndGlyphs">Precision</text>
<line x1="303.80" y1="649.30" x2="312.40" y2="649.30" stroke="#30f0f8" stroke-width="1.0"/>
<text x="315.1" y="650.6" font-family="Liberation Sans" font-size="3.7" text-anchor="start" fill="#444" textLength="11.6" lengthAdjust="spacingAndGlyphs">Recall</text>
<line x1="380.60" y1="532.90" x2="674.70" y2="532.90" stroke="#f6f6f6" stroke-width="0.8" stroke-dasharray="2.4,1"/>
<line x1="380.60" y1="559.10" x2="674.70" y2="559.10" stroke="#f6f6f6" stroke-width="0.8" stroke-dasharray="2.4,1"/>
<line x1="380.60" y1="585.20" x2="674.70" y2="585.20" stroke="#f6f6f6" stroke-width="0.8" stroke-dasharray="2.4,1"/>
<line x1="380.60" y1="611.30" x2="674.70" y2="611.30" stroke="#f6f6f6" stroke-width="0.8" stroke-dasharray="2.4,1"/>
<line x1="380.60" y1="637.40" x2="674.70" y2="637.40" stroke="#f6f6f6" stroke-width="0.8" stroke-dasharray="2.4,1"/>
<line x1="393.20" y1="527.00" x2="393.20" y2="655.60" stroke="#f6f6f6" stroke-width="0.8" stroke-dasharray="2.4,1"/>
<line x1="446.30" y1="527.00" x2="446.30" y2="655.60" stroke="#f6f6f6" stroke-width="0.8" stroke-dasharray="2.4,1"/>
<line x1="499.40" y1="527.00" x2="499.40" y2="655.60" stroke="#f6f6f6" stroke-width="0.8" stroke-dasharray="2.4,1"/>
<line x1="552.50" y1="527.00" x2="552.50" y2="655.60" stroke="#f6f6f6" stroke-width="0.8" stroke-dasharray="2.4,1"/>
<line x1="605.60" y1="527.00" x2="605.60" y2="655.60" stroke="#f6f6f6" stroke-width="0.8" stroke-dasharray="2.4,1"/>
<line x1="658.70" y1="527.00" x2="658.70" y2="655.60" stroke="#f6f6f6" stroke-width="0.8" stroke-dasharray="2.4,1"/>
<line x1="393.50" y1="527.00" x2="393.50" y2="655.60" stroke="#ff7474" stroke-width="1.0" stroke-dasharray="1.3,0.7"/>
<line x1="422.50" y1="527.00" x2="422.50" y2="655.60" stroke="#ffd4d4" stroke-width="1.0" stroke-dasharray="1.3,0.7"/>
<line x1="446.50" y1="527.00" x2="446.50" y2="655.60" stroke="#ffd4d4" stroke-width="1.0" stroke-dasharray="1.3,0.7"/>
<line x1="459.50" y1="527.00" x2="459.50" y2="655.60" stroke="#ffa8a8" stroke-width="1.0" stroke-dasharray="1.3,0.7"/>
<line x1="470.50" y1="527.00" x2="470.50" y2="655.60" stroke="#ffd4d4" stroke-width="1.0" stroke-dasharray="1.3,0.7"/>
<line x1="483.50" y1="527.00" x2="483.50" y2="655.60" stroke="#ffd4d4" stroke-width="1.0" stroke-dasharray="1.3,0.7"/>
<line x1="502.50" y1="527.00" x2="502.50" y2="655.60" stroke="#ffa8a8" stroke-width="1.0" stroke-dasharray="1.3,0.7"/>
<line x1="515.50" y1="527.00" x2="515.50" y2="655.60" stroke="#ffd4d4" stroke-width="1.0" stroke-dasharray="1.3,0.7"/>
<line x1="544.50" y1="527.00" x2="544.50" y2="655.60" stroke="#ffa8a8" stroke-width="1.0" stroke-dasharray="1.3,0.7"/>
<line x1="560.50" y1="527.00" x2="560.50" y2="655.60" stroke="#ff7474" stroke-width="1.0" stroke-dasharray="1.3,0.7"/>
<line x1="579.50" y1="527.00" x2="579.50" y2="655.60" stroke="#ffa8a8" stroke-width="1.0" stroke-dasharray="1.3,0.7"/>
<line x1="589.50" y1="527.00" x2="589.50" y2="655.60" stroke="#ffd4d4" stroke-width="1.0" stroke-dasharray="1.3,0.7"/>
<line x1="605.50" y1="527.00" x2="605.50" y2="655.60" stroke="#ff7474" stroke-width="1.0" stroke-dasharray="1.3,0.7"/>
<line x1="626.50" y1="527.00" x2="626.50" y2="655.60" stroke="#ff7474" stroke-width="1.0" stroke-dasharray="1.3,0.7"/>
<line x1="637.50" y1="527.00" x2="637.50" y2="655.60" stroke="#ffa8a8" stroke-width="1.0" stroke-dasharray="1.3,0.7"/>
<polyline points="393.20,653.60 395.85,585.50 398.51,563.80 401.16,568.50 403.82,556.20 406.47,543.50 409.13,540.50 411.78,538.60 414.44,539.20 417.09,539.20 419.75,537.30 422.40,549.20 425.06,549.20 427.71,536.00 430.37,536.70 433.02,536.30 435.68,535.40 438.33,536.30 440.99,543.90 443.64,543.90 446.30,533.50 448.95,533.50 451.61,534.10 454.26,533.50 456.92,534.30 459.57,534.60 462.23,536.70 464.88,540.20 467.54,595.90 470.19,536.40 472.85,536.70 475.50,537.30 478.16,536.40 480.81,536.40 483.47,537.30 486.12,537.30 488.78,538.80 491.44,535.70 494.09,536.40 496.75,537.30 499.40,537.60 502.05,539.60 504.71,538.40 507.37,539.20 510.02,539.20 512.67,539.20 515.33,538.40 517.99,538.80 520.64,540.20 523.29,540.40 525.95,541.00 528.61,538.10 531.26,538.40 533.91,539.60 536.57,538.40 539.22,538.10 541.88,536.70 544.53,534.90 547.19,534.60 549.85,535.30 552.50,536.40 555.15,534.90 557.81,535.30 560.46,533.80 563.12,533.80 565.77,533.40 568.43,533.20 571.09,533.40 573.74,533.40 576.39,533.20 579.05,534.30 581.70,535.50 584.36,538.40 587.01,534.90 589.67,532.60 592.32,532.60 594.98,533.20 597.63,532.90 600.29,534.90 602.94,538.40 605.60,533.20 608.25,532.60 610.91,532.60 613.56,532.60 616.22,532.90 618.88,536.70 621.53,532.60 624.18,532.60 626.84,532.90 629.50,535.30 632.15,532.90 634.80,533.80 637.46,535.70 640.12,534.30 642.77,534.30 645.42,536.30 648.08,535.50 650.73,535.50 653.39,535.50 656.04,534.60 658.70,534.30 661.36,534.30" fill="none" stroke="#b84545" stroke-width="1.0" stroke-linejoin="round"/>
<line x1="380.60" y1="527.00" x2="380.60" y2="655.60" stroke="#999" stroke-width="1.1"/>
<line x1="380.60" y1="655.60" x2="674.70" y2="655.60" stroke="#bbb" stroke-width="1.1"/>
<text x="378.6" y="534.6" font-family="Liberation Sans" font-size="4.9" text-anchor="end" fill="#222" textLength="14.7" lengthAdjust="spacingAndGlyphs">1.0000</text>
<text x="378.6" y="560.8" font-family="Liberation Sans" font-size="4.9" text-anchor="end" fill="#222" textLength="14.7" lengthAdjust="spacingAndGlyphs">0.9995</text>
<text x="378.6" y="586.9" font-family="Liberation Sans" font-size="4.9" text-anchor="end" fill="#222" textLength="14.7" lengthAdjust="spacingAndGlyphs">0.9990</text>
<text x="378.6" y="613.0" font-family="Liberation Sans" font-size="4.9" text-anchor="end" fill="#222" textLength="14.7" lengthAdjust="spacingAndGlyphs">0.9985</text>
<text x="378.6" y="639.1" font-family="Liberation Sans" font-size="4.9" text-anchor="end" fill="#222" textLength="14.7" lengthAdjust="spacingAndGlyphs">0.9980</text>
<text x="393.2" y="661.2" font-family="Liberation Sans" font-size="4.9" text-anchor="middle" fill="#222" textLength="2.9" lengthAdjust="spacingAndGlyphs">0</text>
<text x="446.3" y="661.2" font-family="Liberation Sans" font-size="4.9" text-anchor="middle" fill="#222" textLength="5.7" lengthAdjust="spacingAndGlyphs">20</text>
<text x="499.4" y="661.2" font-family="Liberation Sans" font-size="4.9" text-anchor="middle" fill="#222" textLength="5.7" lengthAdjust="spacingAndGlyphs">40</text>
<text x="552.5" y="661.2" font-family="Liberation Sans" font-size="4.9" text-anchor="middle" fill="#222" textLength="5.7" lengthAdjust="spacingAndGlyphs">60</text>
<text x="605.6" y="661.2" font-family="Liberation Sans" font-size="4.9" text-anchor="middle" fill="#222" textLength="5.7" lengthAdjust="spacingAndGlyphs">80</text>
<text x="658.7" y="661.2" font-family="Liberation Sans" font-size="4.9" text-anchor="middle" fill="#222" textLength="8.6" lengthAdjust="spacingAndGlyphs">100</text>
<text x="527.0" y="666.5" font-family="Liberation Sans" font-size="4.9" text-anchor="middle" fill="#222" textLength="58.8" lengthAdjust="spacingAndGlyphs">Epoch Index (Cumulative)</text>
<text x="361.2" y="592.0" font-family="Liberation Sans" font-size="4.9" text-anchor="middle" fill="#222" textLength="21.0" lengthAdjust="spacingAndGlyphs" transform="rotate(-90 361.2 592.0)">F1-Score</text>
<text x="527.0" y="525.1" font-family="Liberation Sans" font-size="6.9" text-anchor="middle" fill="#262626" textLength="92.1" lengthAdjust="spacingAndGlyphs">F1-Score Trend Across Training</text>
<rect x="642.0" y="646.5" width="30.5" height="7.7" rx="1" fill="#fff" stroke="#e0e0e0" stroke-width="0.6"/>
<line x1="644.20" y1="650.00" x2="651.70" y2="650.00" stroke="#d07070" stroke-width="1.0"/>
<text x="654.5" y="651.3" font-family="Liberation Sans" font-size="3.7" text-anchor="start" fill="#444" textLength="16.1" lengthAdjust="spacingAndGlyphs">F1-Score</text>
<text x="25.6" y="282.3" font-family="Liberation Serif" font-size="15.4" text-anchor="start" fill="#000" textLength="10.2" lengthAdjust="spacingAndGlyphs">a.</text>
<text x="52.9" y="282.3" font-family="Liberation Serif" font-size="15.4" text-anchor="start" fill="#000" textLength="69.9" lengthAdjust="spacingAndGlyphs">ROC Curve</text>
<text x="382.3" y="282.2" font-family="Liberation Serif" font-size="15.4" text-anchor="start" fill="#000" textLength="11.0" lengthAdjust="spacingAndGlyphs">b.</text>
<text x="409.4" y="282.2" font-family="Liberation Serif" font-size="15.4" text-anchor="start" fill="#000" textLength="106.1" lengthAdjust="spacingAndGlyphs">Confusion Matrix</text>
<text x="25.6" y="496.5" font-family="Liberation Serif" font-size="15.4" text-anchor="start" fill="#000" textLength="10.2" lengthAdjust="spacingAndGlyphs">c.</text>
<text x="53.3" y="496.5" font-family="Liberation Serif" font-size="15.4" text-anchor="start" fill="#000" textLength="200.7" lengthAdjust="spacingAndGlyphs">Model Accuracy Across Training</text>
<text x="382.4" y="496.5" font-family="Liberation Serif" font-size="15.4" text-anchor="start" fill="#000" textLength="11.0" lengthAdjust="spacingAndGlyphs">d.</text>
<text x="409.6" y="496.5" font-family="Liberation Serif" font-size="15.4" text-anchor="start" fill="#000" textLength="171.3" lengthAdjust="spacingAndGlyphs">Model Loss Across Training</text>
<text x="25.4" y="683.8" font-family="Liberation Serif" font-size="15.4" text-anchor="start" fill="#000" textLength="10.2" lengthAdjust="spacingAndGlyphs">e.</text>
<text x="53.4" y="683.8" font-family="Liberation Serif" font-size="15.4" text-anchor="start" fill="#000" textLength="212.9" lengthAdjust="spacingAndGlyphs">Precision &amp; Recall Across Training</text>
<text x="382.4" y="684.9" font-family="Liberation Serif" font-size="15.4" text-anchor="start" fill="#000" textLength="8.6" lengthAdjust="spacingAndGlyphs">f.</text>
<text x="409.6" y="684.9" font-family="Liberation Serif" font-size="15.4" text-anchor="start" fill="#000" textLength="155.2" lengthAdjust="spacingAndGlyphs">F1-Score Across Training</text>
</svg>
</body></html>
